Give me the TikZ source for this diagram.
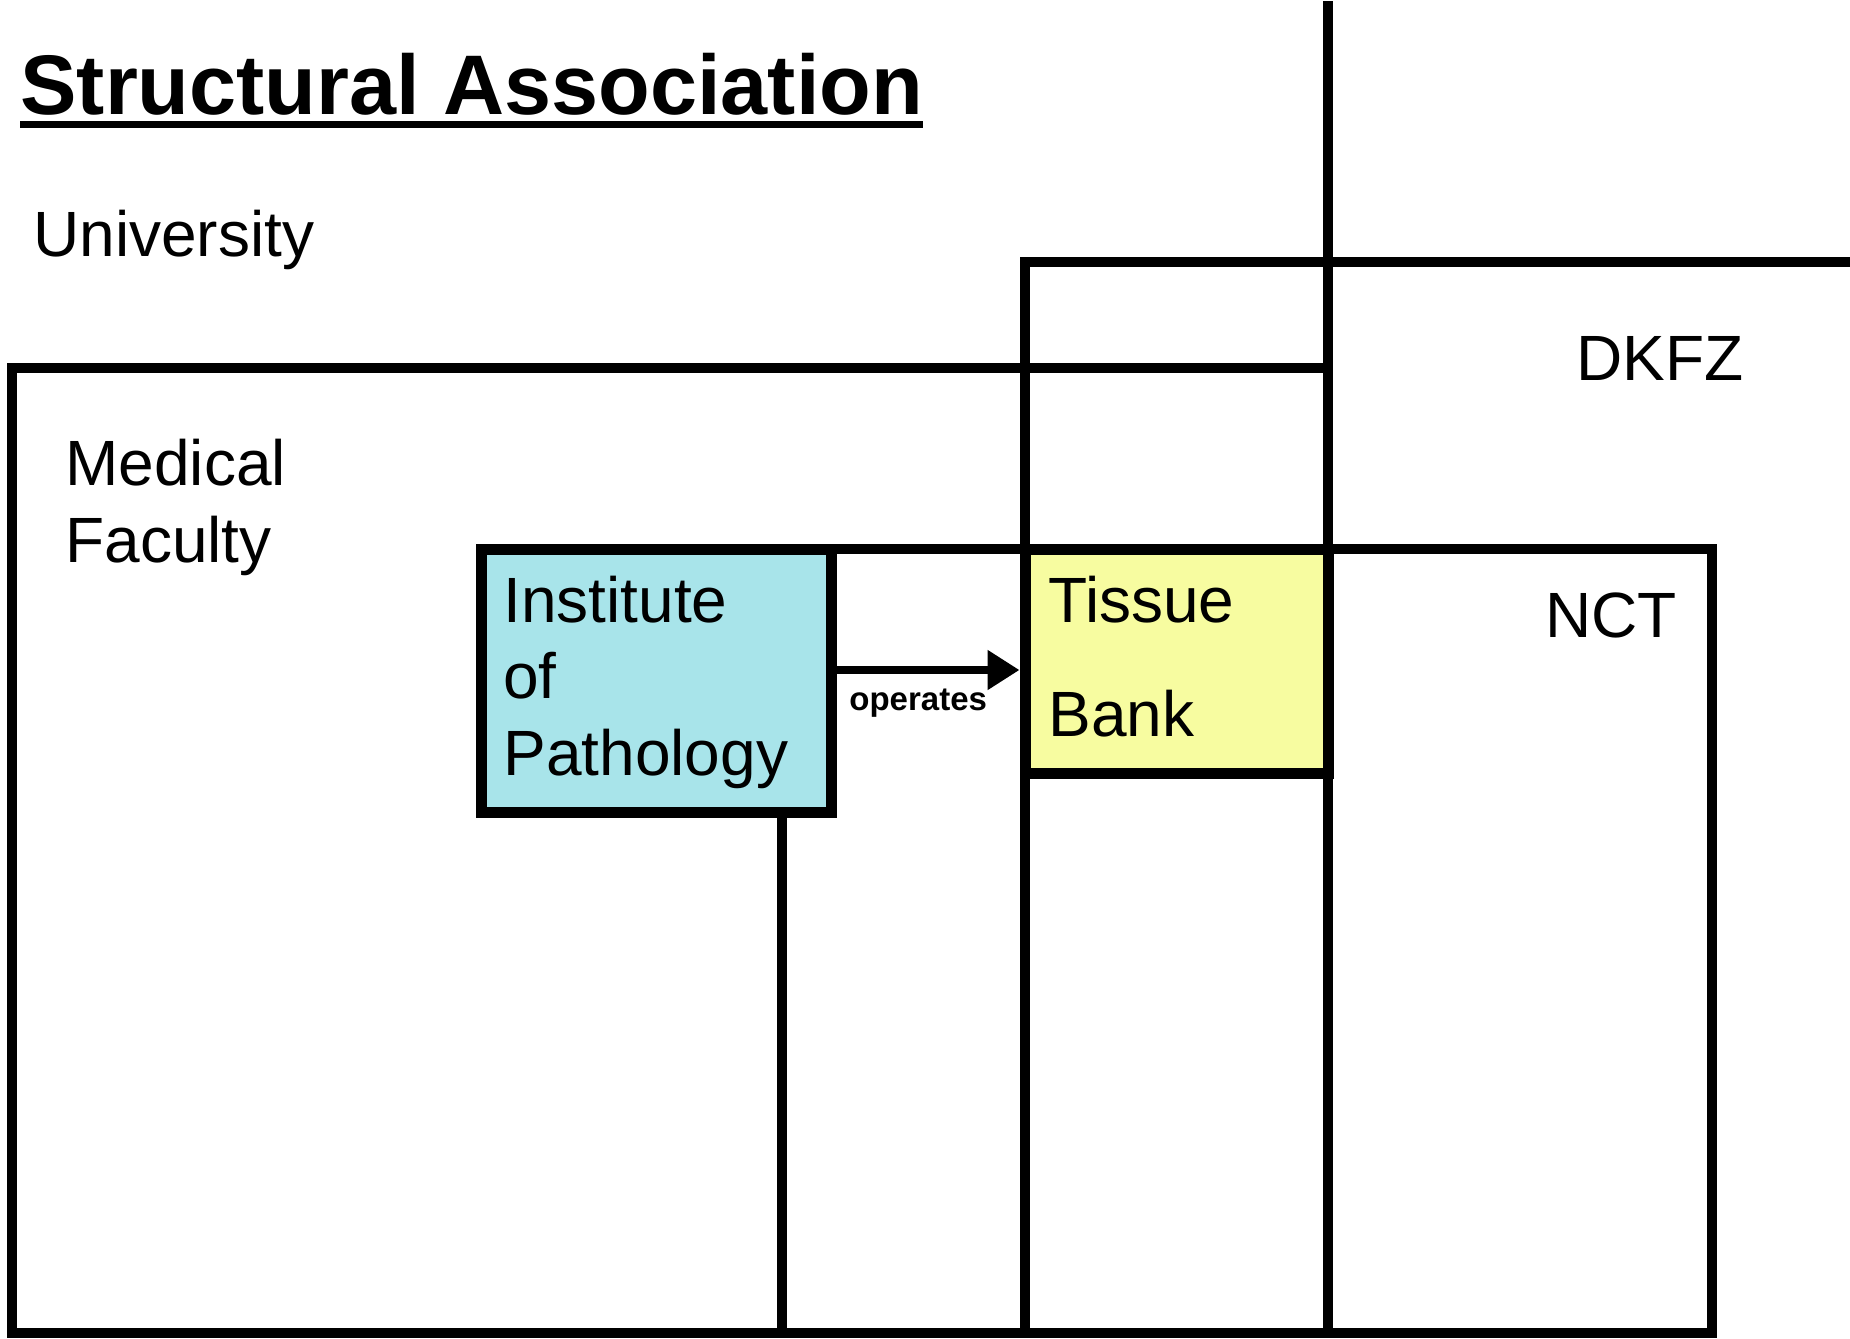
\documentclass[tikz,border=0pt]{standalone}
\usepackage{fontspec}
\setmainfont{Liberation Sans}
\usetikzlibrary{arrows.meta}
\definecolor{iopfill}{HTML}{A8E4EA}
\definecolor{tbfill}{HTML}{F7FCA0}
\tikzset{
  region/.style={line width=5pt, line cap=rect},
  unitbox/.style={draw, line width=5.5pt, rectangle, inner sep=0pt, outer sep=0pt},
  lbl/.style={inner sep=0pt, anchor=base west, font=\fontsize{32}{38}\selectfont},
  arrowline/.style={line width=4.2pt, -{Triangle[length=16pt,width=19pt]}, shorten >=2.75pt, shorten <=2.75pt},
}
\begin{document}
\begin{tikzpicture}[x=0.5pt,y=-0.5pt]
\useasboundingbox[fill=white] (0,0) rectangle (1850,1338);
% title
\node[inner sep=0pt, anchor=base west, font=\bfseries\fontsize{42.3}{50}\selectfont] (title) at (20,114) {Structural Association};
\draw[line width=3.5pt] (title.west |- 0,124) -- (title.east |- 0,124);
% region boundaries
\draw[region] (1328,6) -- (1328,1333);
\draw[region] (1850,262) -- (1025,262) -- (1025,1333);
\draw[region] (1328,368) -- (12,368) -- (12,1333) -- (1712,1333);
\draw[region] (782,1333) -- (782,549) -- (1712,549) -- (1712,1333);
% region labels
\node[lbl] (univ) at (33,256) {University};
\node[lbl] (medfac1) at (65,485) {Medical};
\node[lbl] (medfac2) at (65,562) {Faculty};
\node[lbl] (dkfz) at (1576,380) {DKFZ};
\node[lbl] (nct) at (1545,637) {NCT};
% units
\node[unitbox, fill=iopfill, minimum width=175pt, minimum height=131.5pt, anchor=north west] (iop) at (481,549) {};
\node[unitbox, fill=tbfill, minimum width=151.5pt, minimum height=112pt, anchor=north west] (tb) at (1025,549) {};
\node[lbl] (iopt1) at (503,622) {Institute};
\node[lbl] (iopt2) at (503,698) {of};
\node[lbl] (iopt3) at (503,775) {Pathology};
\node[lbl] (tbt1) at (1048,622) {Tissue};
\node[lbl] (tbt2) at (1048,736) {Bank};
% connector
\coordinate (arr) at (0,670);
\draw[arrowline] (iop.east |- arr) -- (tb.west |- arr);
\node[inner sep=0pt, anchor=base west, font=\bfseries\fontsize{16.5}{19}\selectfont] (op) at (849,710) {operates};
\end{tikzpicture}
\end{document}
